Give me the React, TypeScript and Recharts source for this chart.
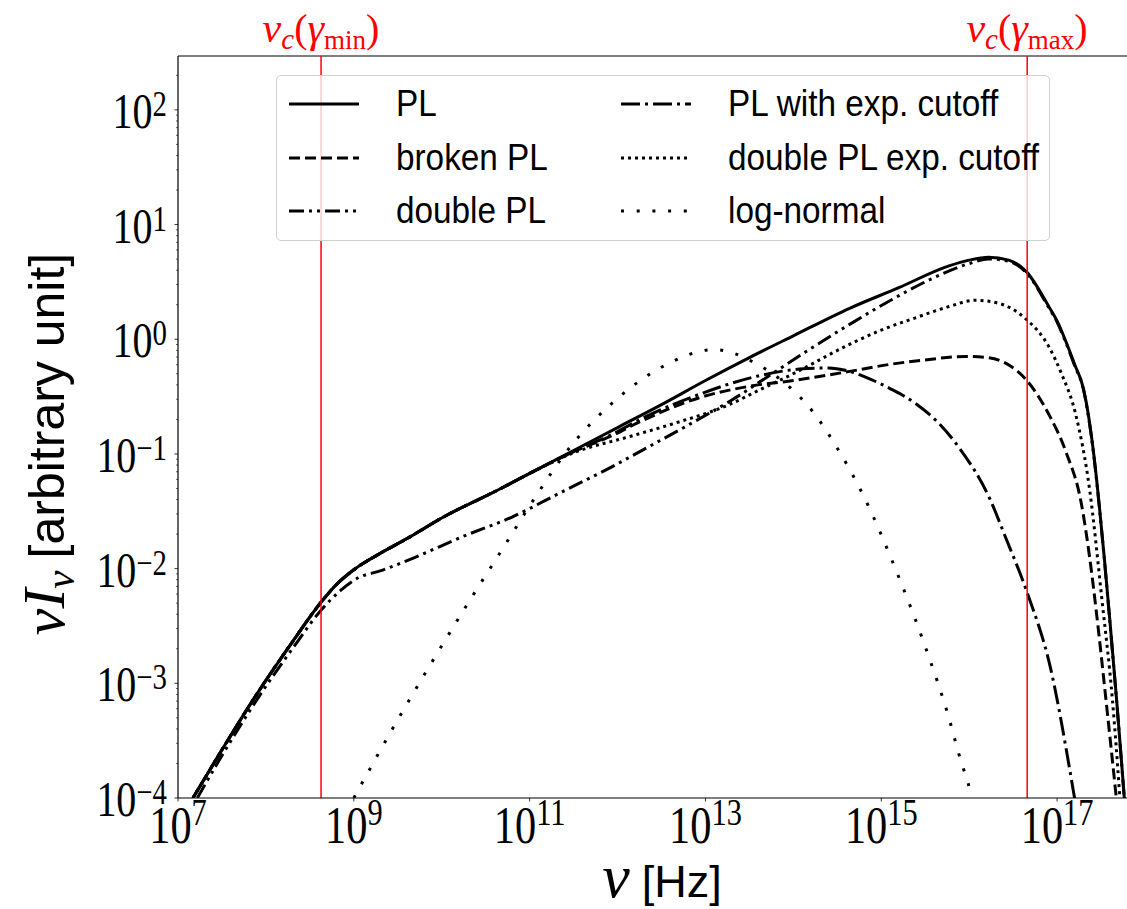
import React from 'react';
import { LineChart, Line, XAxis, YAxis, ReferenceLine } from 'recharts';

// [log10(nu / Hz), log10(nu I_nu)] pairs
const plPts: [number, number][] = [
  [7.17, -4.0], [7.5, -3.58], [7.9, -3.09], [8.3, -2.64], [8.62, -2.3], [8.8, -2.14],
  [9.0, -2.01], [9.27, -1.88], [9.6, -1.74], [10.02, -1.55], [10.65, -1.31], [11.0, -1.17],
  [11.5, -0.97], [12.0, -0.77], [12.5, -0.57], [13.0, -0.36], [13.5, -0.16], [14.0, 0.03],
  [14.64, 0.27], [15.2, 0.45], [15.77, 0.64], [16.0, 0.69], [16.22, 0.715], [16.45, 0.69],
  [16.65, 0.59], [16.91, 0.28], [17.0, 0.16], [17.1, -0.02], [17.2, -0.22], [17.3, -0.43],
  [17.36, -0.68], [17.42, -1.02], [17.48, -1.45], [17.54, -1.93], [17.6, -2.45], [17.68, -3.17],
  [17.75, -3.85], [17.78, -4.15],
];

const brokenPts: [number, number][] = [
  [7.17, -4.0], [7.5, -3.58], [7.9, -3.09], [8.3, -2.64], [8.62, -2.3], [8.8, -2.14],
  [9.0, -2.01], [9.27, -1.88], [9.6, -1.74], [10.02, -1.55], [10.65, -1.31], [11.0, -1.17],
  [11.5, -0.98], [11.91, -0.85], [12.28, -0.71], [12.93, -0.51], [13.5, -0.41], [14.0, -0.36],
  [14.64, -0.28], [15.09, -0.22], [15.5, -0.18], [15.96, -0.15], [16.2, -0.16], [16.42, -0.21],
  [16.65, -0.355], [16.92, -0.675], [17.1, -0.98], [17.28, -1.45], [17.37, -1.9], [17.45, -2.4],
  [17.55, -3.1], [17.66, -3.9], [17.68, -4.05],
];

const doublePts: [number, number][] = [
  [7.22, -4.0], [7.5, -3.63], [7.9, -3.14], [8.3, -2.7], [8.63, -2.36], [8.85, -2.19],
  [9.05, -2.08], [9.3, -2.02], [9.67, -1.91], [10.24, -1.72], [10.8, -1.55], [11.37, -1.33],
  [11.94, -1.11], [12.3, -0.96], [12.8, -0.75], [13.3, -0.53], [13.76, -0.3], [14.18, -0.09],
  [14.64, 0.13], [15.13, 0.35], [15.58, 0.53], [16.0, 0.66], [16.22, 0.7], [16.45, 0.68],
  [16.65, 0.58], [16.91, 0.27], [17.0, 0.15], [17.1, -0.03], [17.2, -0.23], [17.3, -0.44],
  [17.36, -0.69], [17.42, -1.03], [17.48, -1.46], [17.54, -1.94], [17.6, -2.46], [17.68, -3.18],
  [17.75, -3.86], [17.78, -4.16],
];

const expCutPts: [number, number][] = [
  [7.17, -4.0], [7.5, -3.58], [7.9, -3.09], [8.3, -2.64], [8.62, -2.3], [8.8, -2.14],
  [9.0, -2.01], [9.27, -1.88], [9.6, -1.74], [10.02, -1.55], [10.65, -1.31], [11.0, -1.17],
  [11.5, -0.98], [11.91, -0.84], [12.28, -0.69], [12.93, -0.48], [13.6, -0.32], [14.07, -0.26],
  [14.4, -0.25], [14.64, -0.28], [14.82, -0.33], [15.1, -0.43], [15.39, -0.56], [15.65, -0.73],
  [15.88, -0.94], [16.24, -1.4], [16.41, -1.72], [16.66, -2.21], [16.92, -2.85], [17.19, -3.96],
  [17.21, -4.05],
];

const doubleExpPts: [number, number][] = [
  [7.17, -4.0], [7.5, -3.58], [7.9, -3.09], [8.3, -2.64], [8.62, -2.3], [8.8, -2.14],
  [9.0, -2.01], [9.27, -1.88], [9.6, -1.74], [10.02, -1.55], [10.65, -1.31], [11.0, -1.17],
  [11.5, -0.99], [12.13, -0.85], [12.66, -0.73], [13.27, -0.57], [13.62, -0.44], [14.0, -0.3],
  [14.65, -0.04], [15.0, 0.08], [15.4, 0.19], [15.75, 0.28], [16.07, 0.34], [16.35, 0.31],
  [16.64, 0.18], [16.91, -0.07], [17.05, -0.3], [17.21, -0.65], [17.37, -1.31], [17.51, -2.27],
  [17.63, -3.15], [17.71, -3.96], [17.73, -4.2],
];

const logNormalPts: [number, number][] = [
  [9.0, -4.0], [9.46, -3.37], [9.9, -2.8], [10.3, -2.3], [10.69, -1.83], [11.07, -1.37],
  [11.45, -0.95], [11.92, -0.57], [12.51, -0.24], [13.1, -0.09], [13.57, -0.21], [13.99, -0.44],
  [14.22, -0.63], [14.5, -0.95], [14.82, -1.4], [15.16, -2.0], [15.5, -2.68], [15.78, -3.33],
  [15.88, -3.61], [16.02, -3.96], [16.05, -4.05],
];

const xTicks = [1e7, 1e9, 1e11, 1e13, 1e15, 1e17];
const yMajorExps = [-4, -3, -2, -1, 0, 1, 2];
const X_DOMAIN: [number, number] = [1e7, 1e18];
const Y_TOP = 295;
const NU_C_MIN = 4.24e8;
const NU_C_MAX = 4.57e16;

const SERIF = "'Liberation Serif', 'DejaVu Serif', serif";
const SANS = "'Liberation Sans', 'DejaVu Sans', sans-serif";
const AXIS_X = 178;
const AXIS_Y = 798;

const yTicks: number[] = [];
yMajorExps.forEach((e) => {
  for (let k = 1; k <= 9; k++) {
    const v = k * Math.pow(10, e);
    if (v <= Y_TOP) yTicks.push(v);
  }
});

const toPoints = (pts: [number, number][]) =>
  pts.map(([lx, ly]) => ({ nu: Math.pow(10, lx), flux: Math.pow(10, ly) }));

const series = [
  { name: 'PL', pts: plPts, dash: undefined },
  { name: 'broken PL', pts: brokenPts, dash: '11 5' },
  { name: 'double PL', pts: doublePts, dash: '15 5 3 5 3 5' },
  { name: 'PL with exp. cutoff', pts: expCutPts, dash: '19 5 3 5' },
  { name: 'double PL exp. cutoff', pts: doubleExpPts, dash: '3 4' },
  { name: 'log-normal', pts: logNormalPts, dash: '3 12.7' },
];

const supText = (e: number) => (e < 0 ? `\u2212${-e}` : `${e}`);

const XTick = (props: any) => {
  const { x, payload } = props;
  const e = Math.round(Math.log10(payload.value));
  return (
    <g>
      <line x1={x} x2={x} y1={AXIS_Y} y2={AXIS_Y + 3.5} stroke="#000" strokeWidth={0.8} />
      <g transform={`translate(${x},${AXIS_Y + 45}) scale(0.8,1)`}>
        <text textAnchor="middle" fontFamily={SERIF} fontSize={53} fill="#000">
          10
          <tspan dy={-18} fontSize={38}>{supText(e)}</tspan>
        </text>
      </g>
    </g>
  );
};

const YTick = (props: any) => {
  const { y, payload } = props;
  const lg = Math.log10(payload.value);
  const major = Math.abs(lg - Math.round(lg)) < 1e-6;
  return (
    <g>
      <line x1={AXIS_X - (major ? 3.5 : 2)} x2={AXIS_X} y1={y} y2={y} stroke="#000" strokeWidth={major ? 0.8 : 0.6} />
      {major && (
        <g transform={`translate(${AXIS_X - 11},${y + 18}) scale(0.8,1)`}>
          <text textAnchor="end" fontFamily={SERIF} fontSize={50} fill="#000">
            10
            <tspan dy={-12} fontSize={36}>{supText(Math.round(lg))}</tspan>
          </text>
        </g>
      )}
    </g>
  );
};

const NuCLabel = ({ x, sub }: { x: number; sub: string }) => (
  <text x={x} y={42} textAnchor="middle" fill="#ff0000" fontFamily={SERIF}>
    <tspan fontStyle="italic" fontSize={42}>ν</tspan>
    <tspan fontStyle="italic" fontSize={29} dy={7}>c</tspan>
    <tspan fontSize={40} dy={-7}>(</tspan>
    <tspan fontStyle="italic" fontSize={42}>γ</tspan>
    <tspan fontSize={27} dy={7}>{sub}</tspan>
    <tspan fontSize={40} dy={-7}>)</tspan>
  </text>
);

const legendCols = [series.slice(0, 3), series.slice(3, 6)];

export default function App() {
  return (
    <div style={{ position: 'fixed', left: 0, top: 0, width: 1145, height: 909, background: '#fff' }}>
      <LineChart width={1145} height={909} margin={{ top: 56, right: 0, bottom: 0, left: 0 }}>
        <XAxis
          dataKey="nu"
          type="number"
          scale="log"
          domain={X_DOMAIN}
          ticks={xTicks}
          interval={0}
          allowDataOverflow
          height={111}
          axisLine={{ stroke: '#000', strokeWidth: 1.2 }}
          tickLine={false}
          tick={(p: any) => <XTick {...p} />}
        />
        <YAxis
          type="number"
          scale="log"
          domain={[1e-4, Y_TOP]}
          ticks={yTicks}
          interval={0}
          allowDataOverflow
          width={178}
          axisLine={{ stroke: '#000', strokeWidth: 1.2 }}
          tickLine={false}
          tick={(p: any) => <YTick {...p} />}
        />
        <ReferenceLine y={Y_TOP} stroke="#000" strokeWidth={1.2} />
        {series.map((s) => (
          <Line
            key={s.name}
            data={toPoints(s.pts)}
            dataKey="flux"
            name={s.name}
            type="monotone"
            stroke="#000"
            strokeWidth={3}
            strokeDasharray={s.dash}
            dot={false}
            activeDot={false}
            isAnimationActive={false}
          />
        ))}
        <ReferenceLine x={NU_C_MIN} stroke="#ff0000" strokeWidth={1.5} />
        <ReferenceLine x={NU_C_MAX} stroke="#ff0000" strokeWidth={1.5} />
      </LineChart>

      <svg width={1145} height={909} style={{ position: 'absolute', left: 0, top: 0, pointerEvents: 'none' }}>
        <NuCLabel x={321} sub="min" />
        <NuCLabel x={1027} sub="max" />
        <text x={662} y={897} textAnchor="middle" fill="#000">
          <tspan fontFamily={SERIF} fontStyle="italic" fontSize={62}>ν</tspan>
          <tspan fontFamily={SANS} fontSize={45} dx={12}>[Hz]</tspan>
        </text>
        <text transform="translate(64,444) rotate(-90)" textAnchor="middle" fill="#000">
          <tspan fontFamily={SERIF} fontStyle="italic" fontSize={60}>νI</tspan>
          <tspan fontFamily={SERIF} fontStyle="italic" fontSize={41} dy={10}>ν</tspan>
          <tspan fontFamily={SANS} fontSize={50} dy={-10} dx={12}>[arbitrary unit]</tspan>
        </text>
      </svg>

      <div
        style={{
          position: 'absolute',
          left: 276,
          top: 75,
          width: 774,
          height: 166,
          boxSizing: 'border-box',
          border: '1px solid #d0d0d0',
          borderRadius: 5,
          background: 'rgba(255,255,255,0.8)',
        }}
      >
        {legendCols.map((col, ci) =>
          col.map((s, ri) => (
            <div
              key={s.name}
              style={{
                position: 'absolute',
                left: ci === 0 ? 12 : 344,
                top: 28 + ri * 53.5 - 20,
                height: 40,
                display: 'flex',
                alignItems: 'center',
                whiteSpace: 'nowrap',
              }}
            >
              <svg width={70} height={12} style={{ display: 'block' }}>
                <line x1={0} x2={70} y1={6} y2={6} stroke="#000" strokeWidth={3} strokeDasharray={s.dash} />
              </svg>
              <span
                style={{
                  marginLeft: 37,
                  fontFamily: SANS,
                  fontSize: 37,
                  color: '#000',
                  lineHeight: '40px',
                  display: 'inline-block',
                  transform: 'scaleX(0.9)',
                  transformOrigin: 'left center',
                }}
              >
                {s.name}
              </span>
            </div>
          ))
        )}
      </div>
    </div>
  );
}
